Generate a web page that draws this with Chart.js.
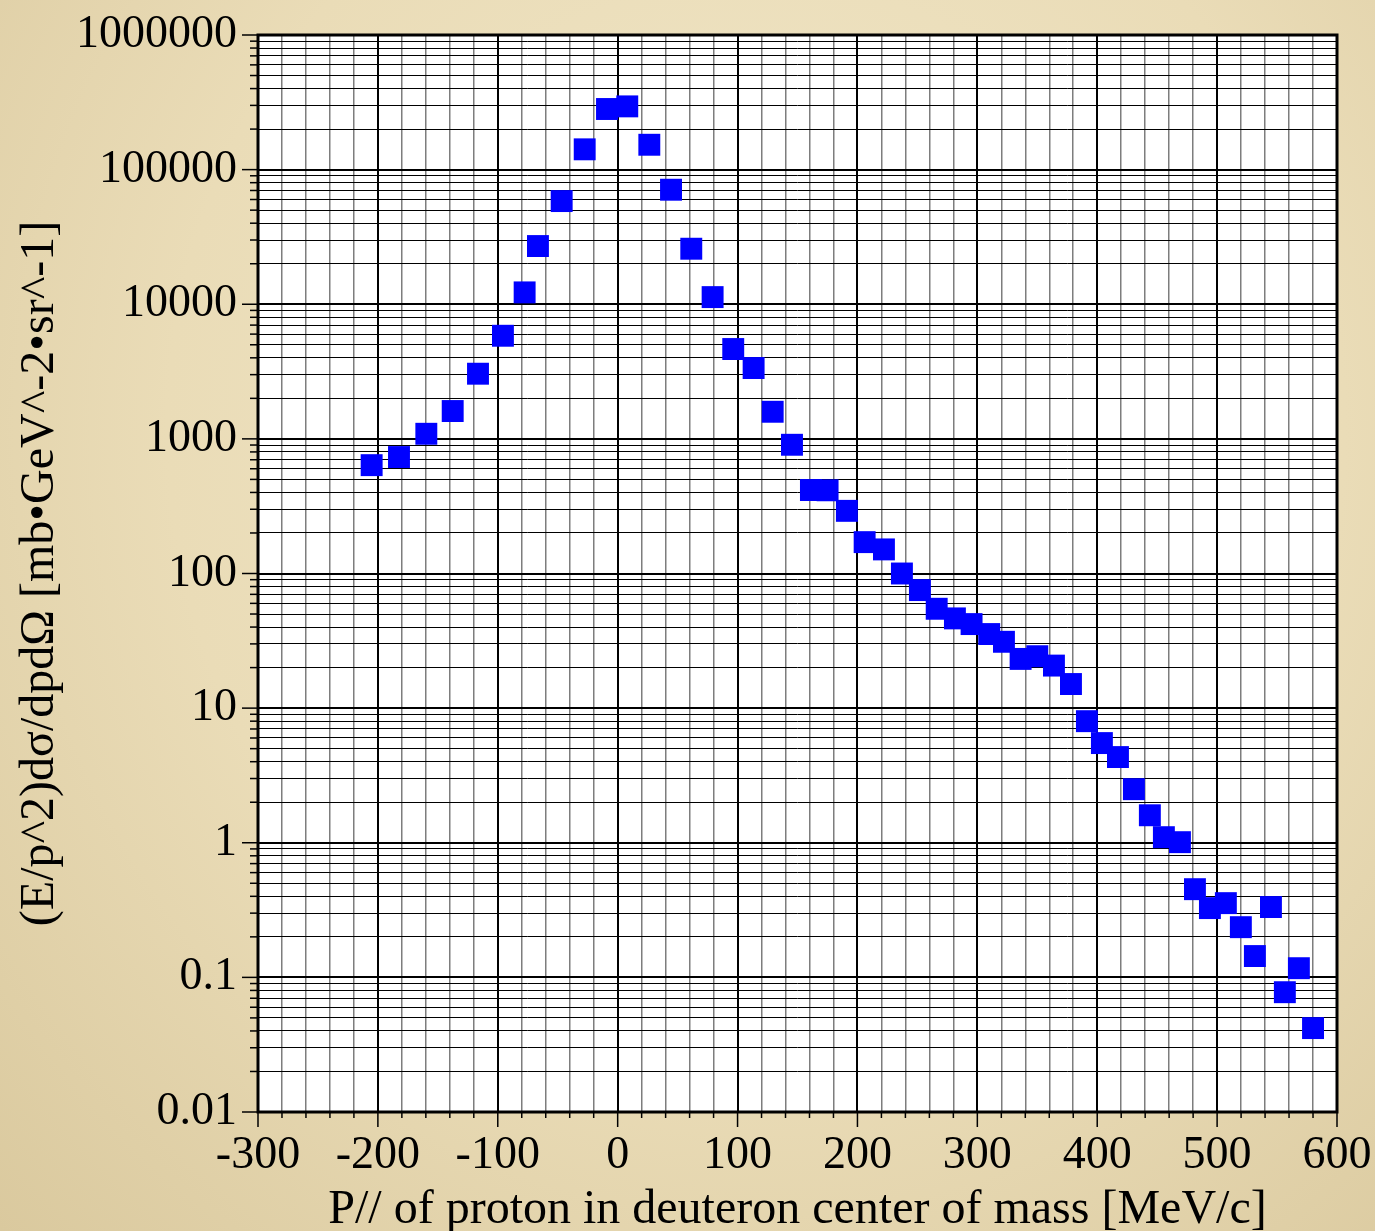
<!DOCTYPE html>
<html>
<head>
<meta charset="utf-8">
<script src="https://cdn.jsdelivr.net/npm/chart.js@4.4.1/dist/chart.umd.min.js"></script>
<style>
  html, body { margin: 0; padding: 0; }
  body {
    width: 1375px; height: 1231px; overflow: hidden;
    background: radial-gradient(ellipse at 55% 35%, #f1e7c9 0%, #eadcb7 55%, #dac99e 100%);
  }
  #chart { display: block; }
</style>
</head>
<body>
<canvas id="chart" width="1375" height="1231"></canvas>
<script>
// P// (MeV/c) of the spectator proton
const pPar = [
  -205.2, -182.4, -159.6, -137.6, -116.5, -95.7, -77.6, -66.5, -46.7, -27.5,
  -8.9, 8.0, 26.4, 44.5, 61.4, 79.2, 96.4, 113.4, 129.3, 145.4,
  161.2, 175.1, 191.2, 206.0, 222.1, 237.1, 252.1, 266.1, 281.3, 295.2,
  309.9, 322.2, 336.1, 350.0, 363.9, 378.1, 391.4, 403.9, 417.3, 430.6,
  443.9, 455.6, 469.0, 481.5, 494.0, 507.3, 519.8, 531.5, 544.9, 556.5,
  568.2, 580.0
];
// invariant cross section (mb GeV^-2 sr^-1)
const xsec = [
  638, 733, 1091, 1610, 3048, 5834, 12250, 27060, 58400, 141500,
  282000, 295000, 153000, 70900, 25850, 11300, 4650, 3360, 1590, 904,
  417, 415, 292, 171, 151, 100, 75.3, 54.7, 46.4, 42.1,
  35.5, 31.1, 23.2, 24.3, 20.7, 15.1, 8.0, 5.50, 4.33, 2.50,
  1.60, 1.10, 1.01, 0.452, 0.327, 0.356, 0.236, 0.144, 0.333, 0.0776,
  0.117, 0.042
];

const xTickLabels = ['-300', '-200', '-100', '0', '100', '200', '300', '400', '500', '600'];
const yTickLabels = ['0.01', '0.1', '1', '10', '100', '1000', '10000', '100000', '1000000'];
const decadeExps = [-2, -1, 0, 1, 2, 3, 4, 5, 6];

const xTitle = 'P// of proton in deuteron center of mass [MeV/c]';
const yTitle = '(E/p^2)dσ/dpdΩ [mb•GeV^-2•sr^-1]';

const SERIF = "'Liberation Serif', 'DejaVu Serif', serif";

// 1..9 x 10^n gridlines for every decade shown
function logTicks() {
  const out = [];
  decadeExps.forEach((e, i) => {
    const top = i === decadeExps.length - 1 ? 1 : 9;
    for (let k = 1; k <= top; k++) out.push({ value: Number((k * Math.pow(10, e)).toPrecision(2)), major: k === 1 });
  });
  return out;
}

const frameAndTicks = {
  id: 'frameAndTicks',
  beforeDraw(chart) {
    const { ctx, chartArea: a } = chart;
    ctx.save();
    ctx.fillStyle = '#ffffff';
    ctx.fillRect(a.left, a.top, a.right - a.left, a.bottom - a.top);
    ctx.restore();
  },
  beforeDatasetsDraw(chart) {
    const { ctx, chartArea: a, scales: { x, y } } = chart;
    ctx.save();
    ctx.strokeStyle = '#000';
    // tick marks outside the frame
    ctx.lineWidth = 1.5;
    y.ticks.forEach(t => {
      const py = y.getPixelForValue(t.value);
      const len = t.major ? 16 : 8;
      ctx.beginPath(); ctx.moveTo(a.left - len, py); ctx.lineTo(a.left, py); ctx.stroke();
    });
    x.ticks.forEach(t => {
      const px = x.getPixelForValue(t.value);
      const len = t.value % 100 === 0 ? 15 : 6;
      ctx.beginPath(); ctx.moveTo(px, a.bottom); ctx.lineTo(px, a.bottom + len); ctx.stroke();
    });
    ctx.lineWidth = 3;
    ctx.strokeRect(a.left, a.top, a.right - a.left, a.bottom - a.top);
    ctx.restore();
  }
};

new Chart(document.getElementById('chart'), {
  type: 'scatter',
  data: {
    datasets: [{
      data: pPar.map((p, i) => ({ x: p, y: xsec[i] })),
      pointStyle: 'rect',
      pointRadius: 15.5,
      pointHoverRadius: 15.5,
      backgroundColor: '#0000ff',
      borderColor: '#0000ff',
      pointBorderWidth: 0,
    }]
  },
  options: {
    responsive: false,
    animation: false,
    events: [],
    layout: { padding: { top: 35, right: 38, left: 0, bottom: 0 } },
    plugins: { legend: { display: false }, tooltip: { enabled: false } },
    scales: {
      x: {
        type: 'linear', min: -300, max: 600,
        afterFit: s => { s.height = 119; s.paddingLeft = 0; s.paddingRight = 0; },
        border: { display: false },
        grid: {
          drawTicks: false,
          color: c => c.tick && c.tick.value % 100 === 0 ? '#000' : '#7d7d7d',
          lineWidth: c => c.tick && c.tick.value % 100 === 0 ? 2 : 1.5,
        },
        ticks: {
          stepSize: 20, autoSkip: false, maxRotation: 0, padding: 16,
          color: '#000', font: { family: SERIF, size: 46 },
          callback: v => v % 100 === 0 ? xTickLabels[(v + 300) / 100] : '',
        },
        title: {
          display: true, text: xTitle, color: '#000',
          font: { family: SERIF, size: 48 },
          padding: { top: 0, bottom: -8 },
        },
      },
      y: {
        type: 'logarithmic', min: 0.01, max: 1000000,
        afterFit: s => { s.width = 258; s.paddingTop = 0; s.paddingBottom = 0; },
        afterBuildTicks: s => { s.ticks = logTicks(); },
        border: { display: false },
        grid: {
          drawTicks: false,
          color: '#000',
          lineWidth: c => c.tick && c.tick.major ? 2 : 1,
        },
        ticks: {
          padding: 21, autoSkip: false,
          color: '#000', font: { family: SERIF, size: 46 },
          callback: (v) => {
            const k = decadeExps.findIndex(e => Math.abs(v - Math.pow(10, e)) < 1e-9 * Math.pow(10, e));
            return k >= 0 ? yTickLabels[k] : '';
          },
        },
        title: {
          display: true, text: yTitle, color: '#000',
          font: { family: SERIF, size: 48 },
          padding: { top: 12, bottom: 0 },
        },
      },
    },
  },
  plugins: [frameAndTicks],
});
</script>
</body>
</html>
